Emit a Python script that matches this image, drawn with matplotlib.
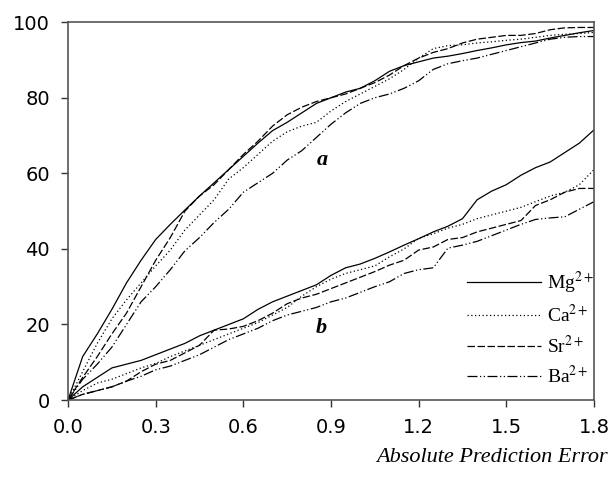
import matplotlib
matplotlib.use("Agg")
import matplotlib.pyplot as plt
import numpy as np

plt.rcParams['mathtext.fontset'] = 'stix'

# absolute prediction error grid
err = np.round(np.arange(0, 1.801, 0.05), 2)

# curves "a"
mg_a = [0, 11.5, 17.5, 24, 31, 37, 42.5, 46.5, 50.3, 54, 57.5, 61, 64.5, 68, 71.3, 73.5, 76, 78.5, 80,
        81.5, 82.5, 84.5, 87, 88.5, 89.5, 90.5, 91, 91.7, 92.5, 93.2, 94, 94.6, 95, 95.8, 96.5, 97.2, 97.8]
ca_a = [0, 7.5, 15, 21.5, 26.5, 31, 35.5, 39.7, 45, 49, 53, 58.5, 61.5, 65, 68.5, 71, 72.5, 73.5, 76.5,
        79, 81, 83, 85, 87.5, 90.5, 93, 93.8, 94, 94.5, 94.8, 95.2, 95.5, 96, 96.5, 96.8, 97, 97.3]
sr_a = [0, 6, 11.5, 17.5, 23, 30, 37, 43, 50, 54, 57, 61, 65, 68.5, 72.5, 75.5, 77.5, 79, 80,
        81, 82.5, 84, 86, 88.5, 90.5, 92, 93, 94.5, 95.5, 96, 96.5, 96.5, 97, 98, 98.5, 98.6, 98.6]
ba_a = [0, 5.5, 9.5, 14, 20, 26, 30, 34.5, 39.5, 43, 47, 50.5, 55, 57.5, 60, 63.5, 66, 69.5, 73,
        76, 78.5, 80, 81, 82.5, 84.5, 87.5, 89, 89.8, 90.5, 91.5, 92.5, 93.5, 94.5, 95.5, 96, 96.2, 96.2]

# curves "b"
mg_b = [0, 3.5, 6, 8.5, 9.5, 10.5, 12, 13.5, 15, 17, 18.5, 20, 21.5, 24, 26, 27.5, 29, 30.5, 33,
        35, 36, 37.5, 39.2, 41, 42.7, 44.5, 46, 48, 53, 55.3, 57, 59.5, 61.5, 63, 65.5, 68, 71.5]
ca_b = [0, 2.5, 4.5, 5.5, 7, 8.5, 9.7, 11.5, 13, 14.5, 16, 17.5, 19, 20.5, 22.5, 24.5, 27.5, 30, 32,
        33.5, 34.5, 35.5, 37.9, 40, 42.8, 44, 45.5, 46.5, 48, 49, 50, 51, 52.5, 54, 55, 57, 61]
sr_b = [0, 1.5, 2.5, 3.5, 5, 7.5, 9.5, 10.5, 12.5, 14.5, 18.5, 18.8, 19.5, 21, 23, 25.5, 27, 28, 29.5,
        31, 32.5, 34, 35.7, 37, 39.7, 40.5, 42.5, 43, 44.5, 45.5, 46.5, 47.5, 51.5, 53, 55, 56, 56]
ba_b = [0, 1.5, 2.5, 3.5, 5, 6.3, 8, 9, 10.5, 12, 14, 16, 17.5, 19, 21, 22.5, 23.5, 24.5, 26,
        27, 28.5, 30, 31.3, 33.5, 34.5, 35, 40.2, 41, 42, 43.5, 45, 46.5, 47.8, 48.2, 48.5, 50.5, 52.5]

labels = ['Mg$^{2+}$', 'Ca$^{2+}$', 'Sr$^{2+}$', 'Ba$^{2+}$']
styles = ['-', (0, (1, 2)), (0, (6, 2)), (0, (8, 2, 1, 2, 1, 2))]

fig = plt.figure(figsize=(6.13, 4.82), dpi=100)
ax = fig.add_axes([0.111, 0.170, 0.858, 0.784])

for ya, yb, ls, lab in zip([mg_a, ca_a, sr_a, ba_a], [mg_b, ca_b, sr_b, ba_b], styles, labels):
    ax.plot(err, ya, color='black', lw=0.9, linestyle=ls, label=lab)
    ax.plot(err, yb, color='black', lw=0.9, linestyle=ls)

ax.set_xlim(0, 1.8)
ax.set_ylim(0, 100)
ax.set_xticks(np.arange(0, 1.81, 0.3))
ax.set_xticklabels(['%.1f' % v for v in np.arange(0, 1.81, 0.3)])
ax.set_yticks(range(0, 101, 20))
ax.tick_params(direction='out', length=5, width=1, colors='#333333', labelsize=14,
               labelcolor='black', pad=8)
for s in ax.spines.values():
    s.set_color('#555555')
    s.set_linewidth(1.2)

ax.text(0.869, 63.5, 'a', fontsize=16, fontweight='bold', fontstyle='italic',
        family='Liberation Serif', ha='center', va='center')
ax.text(0.866, 19, 'b', fontsize=16, fontweight='bold', fontstyle='italic',
        family='Liberation Serif', ha='center', va='center')

leg = ax.legend(loc='lower right', bbox_to_anchor=(1.033, -0.012), frameon=False,
                prop={'family': 'Liberation Serif', 'size': 14}, handlelength=3.8,
                labelspacing=0.43, handletextpad=0.3)

fig.text(0.992, 0.050, 'Absolute Prediction Error', fontsize=16, fontstyle='italic',
         family='Liberation Serif', ha='right', va='center')

fig.savefig('out.png', dpi=100)
